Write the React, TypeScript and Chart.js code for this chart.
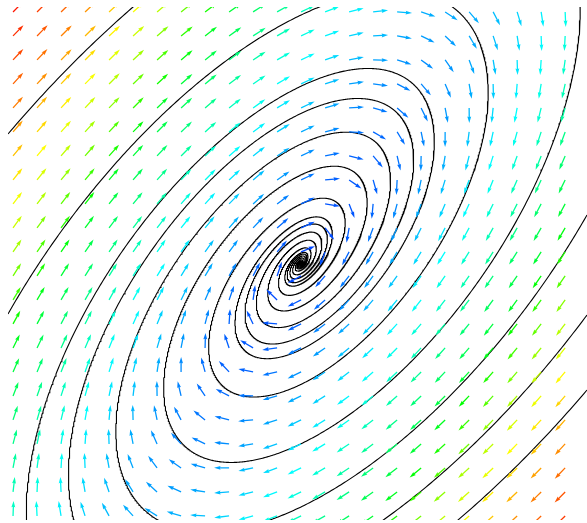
import { useEffect, useRef } from "react";
import { Chart, registerables } from "chart.js";

Chart.register(...registerables);

// Visible window of the phase plane
const X_MIN = -12.18;
const X_MAX = 11.94;
const Y_MIN = -10.69;
const Y_MAX = 10.685;

// Quiver grid (arrow tails)
const GRID_X = [
  -11.97, -10.97, -9.97, -8.97, -7.97, -6.97, -5.97, -4.97, -3.97, -2.97, -1.97, -0.97,
  0.03, 1.03, 2.03, 3.03, 4.03, 5.03, 6.03, 7.03, 8.03, 9.03, 10.03, 11.03,
];
const GRID_Y = [
  10.48, 9.48, 8.48, 7.48, 6.48, 5.48, 4.48, 3.48, 2.48, 1.48, 0.48, -0.52, -1.52, -2.52, -3.52, -4.52,
  -5.52, -6.52, -7.52, -8.52, -9.52, -10.52,
];

// Linear system  x' = A11 x + A12 y,  y' = A21 x + A22 y  (stable focus at the origin)
const A11 = -0.6597;
const A12 = 0.7235;
const A21 = -1.0;
const A22 = 0.3471;

// Initial conditions of the drawn trajectories
const START_X = [-12.18, -12.18, 11.777, 11.94, 11.94, 11.94, -11.515, -9.39, -5.973];
const START_Y = [5.394, -2.106, 10.685, 2.019, -2.148, -5.273, -10.69, -10.69, -10.69];

// Speed colour ramp: normalised speed -> hue
const RAMP_T = [0, 0.1, 0.2, 0.34, 0.54, 0.67, 0.76, 0.86, 1];
const RAMP_HUE = [225, 216, 200, 175, 130, 80, 55, 30, 5];

function field(x: number, y: number): [number, number] {
  return [A11 * x + A12 * y, A21 * x + A22 * y];
}

function trajectory(x0: number, y0: number) {
  const pts: { x: number; y: number }[] = [{ x: x0, y: y0 }];
  let x = x0;
  let y = y0;
  const dt = 0.01;
  for (let i = 0; i < 30000; i++) {
    const [k1x, k1y] = field(x, y);
    const [k2x, k2y] = field(x + (dt / 2) * k1x, y + (dt / 2) * k1y);
    const [k3x, k3y] = field(x + (dt / 2) * k2x, y + (dt / 2) * k2y);
    const [k4x, k4y] = field(x + dt * k3x, y + dt * k3y);
    x += (dt / 6) * (k1x + 2 * k2x + 2 * k3x + k4x);
    y += (dt / 6) * (k1y + 2 * k2y + 2 * k3y + k4y);
    pts.push({ x, y });
    if (Math.hypot(x, y) < 0.01) break;
  }
  return pts;
}

// Seeds that already lie on a drawn trajectory are skipped
function buildTrajectories() {
  const out: { x: number; y: number }[][] = [];
  START_X.forEach((x0, i) => {
    const y0 = START_Y[i];
    const onExisting = out.some((tr) => tr.some((p) => Math.hypot(p.x - x0, p.y - y0) < 0.3));
    if (!onExisting) out.push(trajectory(x0, y0));
  });
  return out;
}

function speedColor(t: number): string {
  const s = Math.max(0, Math.min(1, t));
  let k = 0;
  while (k < RAMP_T.length - 2 && s > RAMP_T[k + 1]) k++;
  const f = (s - RAMP_T[k]) / (RAMP_T[k + 1] - RAMP_T[k]);
  const hue = RAMP_HUE[k] + f * (RAMP_HUE[k + 1] - RAMP_HUE[k]);
  return `hsl(${hue.toFixed(1)},100%,50%)`;
}

type Arrow = { x: number; y: number; u: number; v: number; m: number };

const arrows: Arrow[] = [];
for (const y of GRID_Y) {
  for (const x of GRID_X) {
    const [u, v] = field(x, y);
    arrows.push({ x, y, u, v, m: Math.hypot(u, v) });
  }
}
const M_MAX = Math.max(...arrows.map((a) => a.m));

const quiverPlugin = {
  id: "quiver",
  afterDatasetsDraw(chart: any) {
    const meta = chart.getDatasetMeta(0);
    const { ctx, chartArea } = chart;
    ctx.save();
    ctx.beginPath();
    ctx.rect(chartArea.left, chartArea.top, chartArea.right - chartArea.left, chartArea.bottom - chartArea.top);
    ctx.clip();
    const L = 15;
    const w = 1.3;
    const hl = 5 * w;
    const hal = 4.5 * w;
    const hw = 3 * w;
    meta.data.forEach((el: any, i: number) => {
      const a = arrows[i];
      const ang = Math.atan2(-a.v, a.u);
      ctx.save();
      ctx.translate(el.x, el.y);
      ctx.rotate(ang);
      ctx.fillStyle = speedColor(a.m / M_MAX);
      ctx.beginPath();
      ctx.moveTo(0, -w / 2);
      ctx.lineTo(L - hal, -w / 2);
      ctx.lineTo(L - hl, -hw / 2);
      ctx.lineTo(L, 0);
      ctx.lineTo(L - hl, hw / 2);
      ctx.lineTo(L - hal, w / 2);
      ctx.lineTo(0, w / 2);
      ctx.closePath();
      ctx.fill();
      ctx.restore();
    });
    ctx.restore();
  },
};

export default function App() {
  const ref = useRef<HTMLCanvasElement>(null);
  useEffect(() => {
    document.body.style.margin = "0";
    const datasets: any[] = [
      {
        label: "field",
        data: arrows.map((a) => ({ x: a.x, y: a.y })),
        pointRadius: 0,
        showLine: false,
      },
    ];
    buildTrajectories().forEach((data, i) => {
      datasets.push({
        label: `trajectory ${i + 1}`,
        data,
        showLine: true,
        borderColor: "#000",
        borderWidth: 1.1,
        pointRadius: 0,
        tension: 0,
      });
    });
    const chart = new Chart(ref.current!, {
      type: "scatter",
      data: { datasets },
      options: {
        animation: false,
        responsive: false,
        events: [],
        layout: { padding: { left: 8, top: 7, right: 0, bottom: 3 } },
        plugins: { legend: { display: false }, tooltip: { enabled: false } },
        scales: {
          x: { type: "linear", min: X_MIN, max: X_MAX, display: false },
          y: { type: "linear", min: Y_MIN, max: Y_MAX, display: false },
        },
      },
      plugins: [quiverPlugin],
    });
    return () => chart.destroy();
  }, []);
  return <canvas ref={ref} width={587} height={523} style={{ display: "block" }} />;
}
